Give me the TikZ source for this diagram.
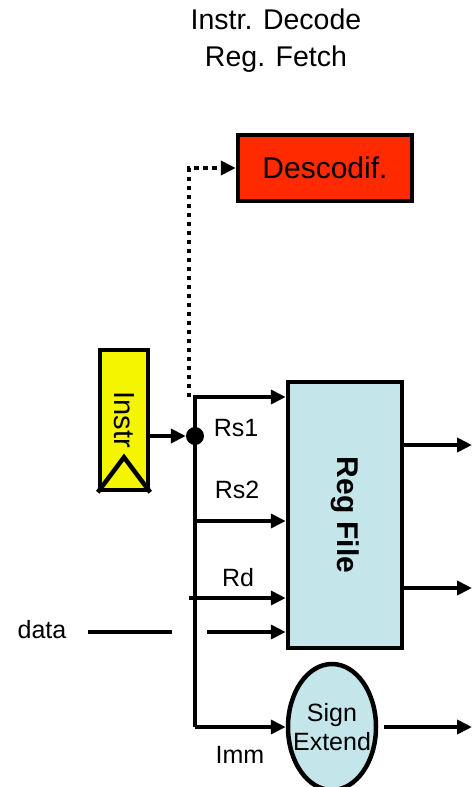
\documentclass[tikz,border=0pt]{standalone}
\usepackage{fontspec}
\setmainfont{Liberation Sans}
\usetikzlibrary{arrows.meta, shapes.geometric, positioning}

\definecolor{decred}{HTML}{FF2A00}
\definecolor{latchyellow}{HTML}{F5F500}
\definecolor{regblue}{HTML}{C4E6EA}

\tikzset{
    wire/.style={line width=4.5pt},
    arr/.style={wire, -{Triangle[length=15pt,width=14pt]}},
    lbl/.style={font=\fontsize{25}{29}\selectfont, inner sep=0pt},
    unit/.style={draw, line width=4.5pt, inner sep=0pt}
}

\begin{document}
\begin{tikzpicture}[x=1pt, y=-1pt, line join=miter]
    \useasboundingbox (0,0) rectangle (472,787);

    % Stage title
    \node[lbl, font=\fontsize{28.5}{37}\selectfont, align=center] (title) at (276,41)
        {Instr. Decode\\Reg. Fetch};

    % Units
    \node[unit, fill=decred, minimum width=174, minimum height=66,
          font=\fontsize{30}{34}\selectfont] (decode) at (325,168) {Descodif.};
    \node[unit, fill=latchyellow, minimum width=48, minimum height=140,
          font=\fontsize{29}{34}\selectfont] (instr) at (124,420) {\rotatebox{-90}{Instr}};
    \draw[wire] (instr.south west) -- ([yshift=35]instr.south) -- (instr.south east);
    \node[unit, fill=regblue, minimum width=114, minimum height=266,
          font=\bfseries\fontsize{30}{34}\selectfont] (regfile) at (345,515) {\rotatebox{-90}{Reg File}};
    \node[unit, ellipse, fill=regblue, minimum width=88, minimum height=126] (signext) at (332,727) {};
    \node[lbl, align=center] (signtxt) at (signext.center) {Sign\\Extend};

    % Bus
    \coordinate (bustop) at (195,397);
    \coordinate (busbot) at (195,727);
    \node[circle, fill, inner sep=0pt, minimum size=18] (dot) at (195,436) {};
    \draw[wire, dash pattern=on 4.5pt off 4.5pt, -{Triangle[length=15pt,width=14pt]}]
        (189,397) -- (189,168) -- (decode.west);
    \draw[arr] (instr.east |- dot) -- (dot.west);
    \draw[arr] (busbot) -- (bustop) -- (regfile.west |- bustop);
    \draw[arr] (195,521) -- (regfile.west |- 0,521);
    \draw[arr] (189,598) -- (regfile.west |- 0,598);
    \draw[arr] (busbot) -- (signext.west);

    % Write data
    \node[lbl] (data) at (42,630) {data};
    \coordinate (gapL) at (172,632);
    \coordinate (gapR) at (207,632);
    \draw[wire] (88,632) -- (gapL);
    \draw[arr] (gapR) -- (regfile.west |- gapR);

    % Outputs
    \coordinate (outA) at (472,445);
    \coordinate (outB) at (472,588);
    \coordinate (outC) at (472,727);
    \draw[arr] (regfile.east |- outA) -- (outA);
    \draw[arr] (regfile.east |- outB) -- (outB);
    \draw[arr] ([xshift=6]signext.east) -- (outC);

    % Field labels
    \node[lbl] (rs1) at (236,428) {Rs1};
    \node[lbl] (rs2) at (237,490) {Rs2};
    \node[lbl] (rd) at (238,578) {Rd};
    \node[lbl] (imm) at (240,755) {Imm};
\end{tikzpicture}
\end{document}
